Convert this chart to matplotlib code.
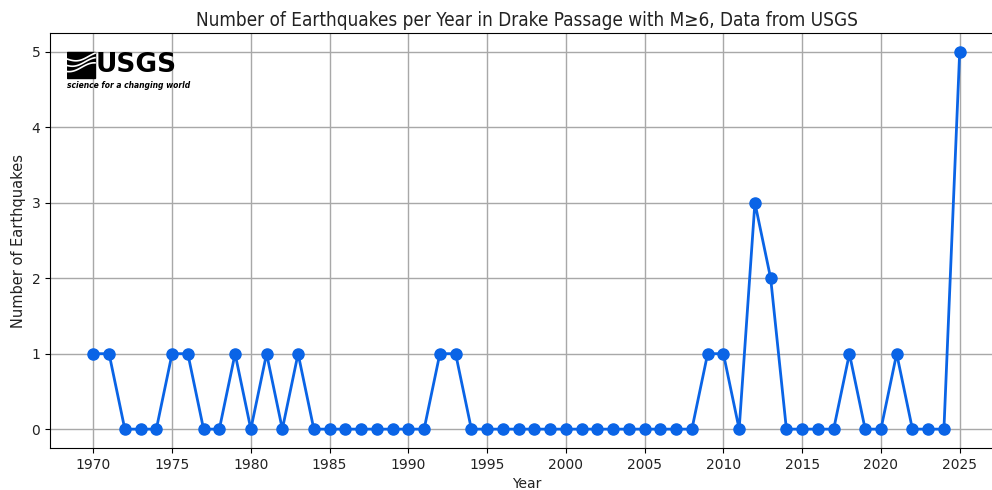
import numpy as np
import matplotlib.pyplot as plt
from matplotlib.patches import Rectangle

years = list(range(1970, 2026))
counts = [1, 1, 0, 0, 0, 1, 1, 0, 0, 1,
          0, 1, 0, 1, 0, 0, 0, 0, 0, 0,
          0, 0, 1, 1, 0, 0, 0, 0, 0, 0,
          0, 0, 0, 0, 0, 0, 0, 0, 0, 1,
          1, 0, 3, 2, 0, 0, 0, 0, 1, 0,
          0, 1, 0, 0, 0, 5]
xticks = list(range(1970, 2026, 5))

plt.rcParams["text.color"] = "#222222"
plt.rcParams["xtick.labelcolor"] = "#222222"
plt.rcParams["ytick.labelcolor"] = "#222222"
plt.rcParams["axes.labelcolor"] = "#222222"

fig = plt.figure(figsize=(9.92, 4.9), dpi=100)
ax = fig.add_axes([50 / 992, 1 - 448 / 490, 953 / 992, 415 / 490])

ax.plot(years, counts, color="#0a64e6", marker="o", markersize=8, linewidth=2)
ax.set_xticks(xticks)
ax.grid(True, color="#a8a8a8", linewidth=1)
ax.set_xlabel("Year", fontsize=10)
ax.set_ylabel("Number of Earthquakes", fontsize=10.5)
ax.set_title("Number of Earthquakes per Year in Drake Passage with M≥6, Data from USGS",
             fontsize=13.6, fontstretch="condensed", pad=5)

# USGS logo, drawn with text and patches
logo_ax = fig.add_axes([67 / 992, 1 - 92 / 490, 112 / 992, 42 / 490])
logo_ax.set_xlim(0, 112)
logo_ax.set_ylim(42, 0)
logo_ax.axis("off")
logo_ax.add_patch(Rectangle((0, 2), 28, 26, color="black"))
t = np.linspace(0, 28, 50)
for k, off in enumerate([9, 14, 19]):
    logo_ax.plot(t, off + 3 * np.sin(t / 28 * np.pi * 1.3 + k * 0.5) - t * 0.12,
                 color="white", linewidth=1.2)
logo_ax.text(29, 15, "USGS", fontsize=19, fontweight="heavy", va="center", ha="left",
             color="black")
logo_ax.text(0, 35, "science for a changing world", fontsize=5.5, style="italic",
             fontweight="bold", va="center", ha="left", color="black")

fig.savefig("out.png", dpi=100)
